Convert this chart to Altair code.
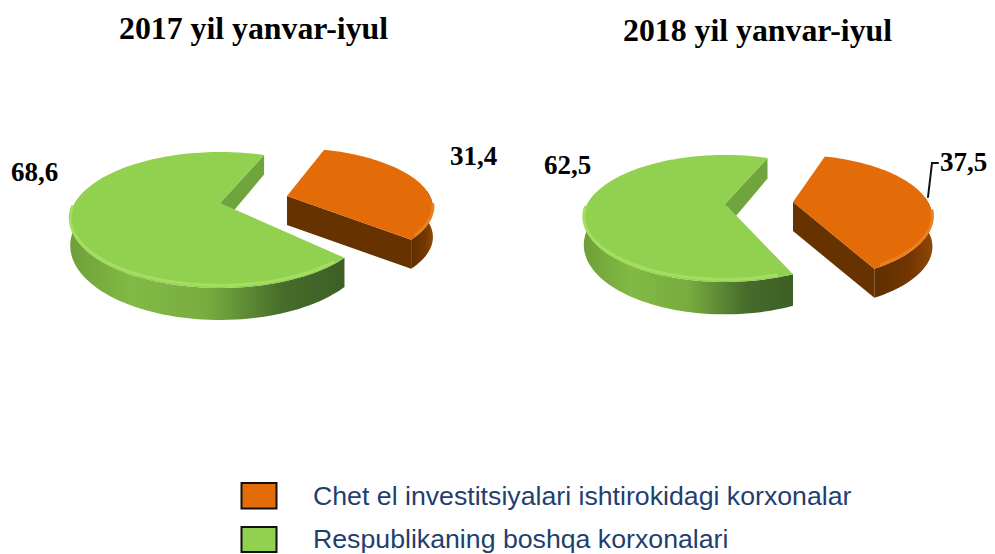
import math
import altair as alt
import pandas as pd

years = ["2017 yil yanvar-iyul", "2018 yil yanvar-iyul"]
foreign = [31.4, 37.5]
other = [68.6, 62.5]
value_labels = ["31,4", "68,6", "37,5", "62,5"]
legend_labels = ["Chet el investitsiyalari ishtirokidagi korxonalar", "Respublikaning boshqa korxonalari"]

X = alt.X("x:Q", axis=None, scale=alt.Scale(domain=[8, 987], nice=False, zero=False))
Y = alt.Y("y:Q", axis=None, scale=alt.Scale(domain=[554, 8], nice=False, zero=False))

GREEN, ORANGE = "#92d050", "#e36c09"


def grad(stops):
    return alt.Gradient(gradient="linear", x1=0, y1=0, x2=1, y2=0,
                        stops=[alt.GradientStop(offset=o, color=c) for o, c in stops])


def pt(g, deg, drop=0.0):
    t = math.radians(deg)
    u, v = math.sin(t), -math.cos(t)
    d = 1 - g["k"] * v
    return (g["cx"] + g["a"] * u / d, g["cy"] + g["b"] * v / d + drop / d ** g.get("p", 1))


def arc(g, d1, d2, drop=0.0):
    n = max(int(abs(d2 - d1) / 2), 2)
    return [pt(g, d1 + (d2 - d1) * i / n, drop) for i in range(n + 1)]


def poly(points, fill):
    pts = list(points) + [points[0]]
    df = pd.DataFrame({"x": [p[0] for p in pts], "y": [p[1] for p in pts], "i": range(len(pts))})
    return alt.Chart(df).mark_line(fill=fill, strokeWidth=0, stroke="transparent").encode(
        x=X, y=Y, order="i:Q")


def stroke(points, color, width):
    df = pd.DataFrame({"x": [p[0] for p in points], "y": [p[1] for p in points], "i": range(len(points))})
    return alt.Chart(df).mark_line(color=color, strokeWidth=width, strokeCap="round").encode(x=X, y=Y, order="i:Q")


def pie(green_share, orange_share, start, g, start_o, g_o):
    layers = []
    # the green slice runs clockwise from its far end round to the start edge
    start_g = start + 360
    end = start_g - green_share * 3.6
    end_o = start_o + orange_share * 3.6
    h = g["h"]
    apex = (g["cx"], g["cy"])
    # green inner wall, seen through the gap
    layers.append(poly([apex, pt(g, start), pt(g, start, h), (apex[0], apex[1] + h)], "#70a53d"))
    # green outer wall
    layers.append(poly(arc(g, end, 282) + arc(g, 282, end, h),
                       grad([(0, "#6f9f39"), (0.22, "#82ba45"), (0.5, "#78ac3f"), (0.78, "#466b2a"), (1, "#3d5f26")])))
    # green top
    layers.append(poly([apex] + arc(g, end, start_g), GREEN))
    layers.append(stroke(arc(g, end + 6, 265, -2), "#a4de60", 3))
    # orange walls
    a_o = (g_o["cx"], g_o["cy"])
    hh = g_o["h"]
    layers.append(poly(arc(g_o, 85, end_o) + arc(g_o, end_o, 85, hh),
                       grad([(0, "#5f2e00"), (0.6, "#723602"), (1, "#8f4706")])))
    layers.append(poly([a_o, pt(g_o, end_o), pt(g_o, end_o, hh), (a_o[0], a_o[1] + hh)], "#663200"))
    layers.append(poly([a_o] + arc(g_o, start_o, end_o), ORANGE))
    layers.append(stroke(arc(g_o, 100, end_o - 3, -2), "#ec8020", 3))
    return layers


geo_2017 = dict(cx=220, cy=203, a=145, b=63.75, k=0.25, h=24)
geo_2018 = dict(cx=725, cy=204, a=137.5, b=60.2, k=0.228, h=25)
geo_o_2017 = dict(cx=287, cy=196, a=143, b=58, k=0.2, h=29, p=0)
geo_o_2018 = dict(cx=793, cy=202, a=135, b=59, k=0.25, h=29, p=0)

layers = []
layers += pie(other[0], foreign[0], 22, geo_2017, 18, geo_o_2017)
layers += pie(other[1], foreign[1], 22, geo_2018, 17, geo_o_2018)

# leader line of the 2018 orange label
layers.append(stroke([(928, 197), (932, 163), (938, 163)], "#111111", 2))

# legend swatches
sw = pd.DataFrame({"x": [241.5, 241.5], "x2": [276.5, 276.5], "y": [483, 527], "y2": [508.5, 552], "c": [ORANGE, GREEN]})
layers.append(alt.Chart(sw).mark_rect(stroke="#111111", strokeWidth=2).encode(
    x=X, x2="x2:Q", y=Y, y2="y2:Q", fill=alt.Fill("c:N", scale=None)))

serif = "Liberation Serif"
title_df = pd.DataFrame({"x": [119, 623], "y": [39, 41], "t": years})
layers.append(alt.Chart(title_df).mark_text(font=serif, fontWeight="bold", fontSize=31.8, align="left",
                                            baseline="alphabetic", color="#000000").encode(x=X, y=Y, text="t:N"))
lab_df = pd.DataFrame({"x": [450, 11, 940, 544], "y": [165, 181, 171, 174], "t": value_labels})
layers.append(alt.Chart(lab_df).mark_text(font=serif, fontWeight="bold", fontSize=27, align="left",
                                          baseline="alphabetic", color="#000000").encode(x=X, y=Y, text="t:N"))
leg_df = pd.DataFrame({"x": [313, 313], "y": [505, 548], "t": legend_labels})
layers.append(alt.Chart(leg_df).mark_text(font="Liberation Sans", fontSize=26.7, align="left",
                                          baseline="alphabetic", color="#1f3f6e").encode(x=X, y=Y, text="t:N"))

chart = alt.layer(*layers).properties(width=979, height=546, padding=0, background="white",
                                      autosize=alt.AutoSizeParams(type="none")).configure_view(stroke=None)
chart.save("out.html", embed_options={"renderer": "svg", "actions": False})
